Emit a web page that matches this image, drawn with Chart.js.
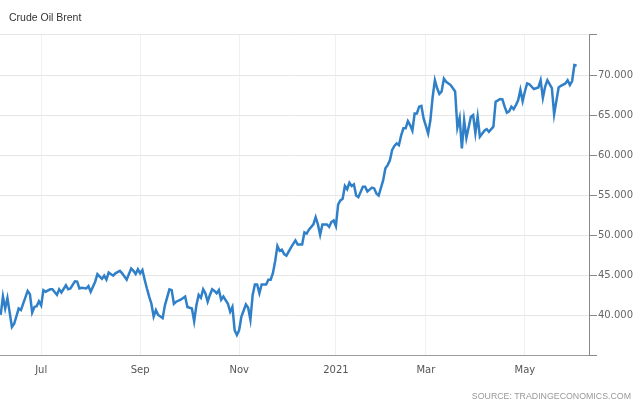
<!DOCTYPE html>
<html>
<head>
<meta charset="utf-8">
<title>Crude Oil Brent</title>
<script src="https://cdn.jsdelivr.net/npm/chart.js@4.4.1/dist/chart.umd.min.js"></script>
<style>
  body { margin: 0; background: #fff; }
  #wrap { position: relative; width: 640px; height: 402px; overflow: hidden; }
  #title { position: absolute; left: 9px; top: 11px; font: 10.5px "Liberation Sans", Arial, sans-serif; color: #333; }
  #source { position: absolute; right: 9px; top: 391px; font: 8.8px "Liberation Sans", Arial, sans-serif; color: #999; }
</style>
</head>
<body>
<div id="wrap">
  <canvas id="myChart" width="640" height="402"></canvas>
  <div id="title">Crude Oil Brent</div>
  <div id="source">SOURCE: TRADINGECONOMICS.COM</div>
</div>
<script>
// trading session index (0 = 5 Jun 2020) and Brent close in USD
const session = [0, 1, 2, 3, 5, 6, 8, 9, 12, 13, 14, 15, 16, 17, 18, 19, 20, 22, 23, 25,
  26, 27, 29, 30, 31, 33, 34, 35, 36, 38, 39, 40, 42, 43, 45, 46, 47, 48, 50, 51,
  53, 54, 56, 58, 59, 60, 61, 62, 63, 64, 65, 66, 67, 68, 69, 70, 71, 72, 73, 75,
  76, 77, 78, 80, 82, 83, 84, 85, 86, 87, 88, 89, 90, 91, 92, 93, 94, 95, 96, 97,
  98, 99, 101, 102, 103, 104, 105, 106, 107, 109, 110, 111, 112, 113, 114, 115, 116, 118, 119, 120,
  121, 122, 123, 124, 125, 126, 127, 129, 131, 132, 134, 135, 136, 137, 139, 140, 141, 142, 143, 145,
  146, 147, 148, 149, 150, 151, 152, 153, 154, 155, 156, 157, 158, 159, 161, 162, 163, 165, 166, 167,
  168, 170, 171, 172, 173, 174, 175, 176, 177, 178, 179, 180, 181, 182, 183, 184, 185, 186, 187, 188,
  189, 190, 191, 192, 193, 194, 195, 196, 197, 198, 200, 201, 202, 203, 204, 205, 206, 207, 209, 210,
  211, 212, 213, 215, 216, 217, 219, 220, 222, 223, 224, 225, 226, 227, 228, 229, 230, 231, 232, 233,
  234, 235, 237, 239, 240, 241, 242, 243, 245, 246, 248, 249, 251, 252, 253, 254, 255, 256];
const brent = [40.1, 42.4, 40.9, 42.2, 38.6, 39.0, 40.9, 40.7, 43.1, 42.7, 40.4, 41.1, 41.2, 41.8, 41.3, 43.2, 43.0, 43.3, 43.3, 42.6,
  43.3, 42.9, 43.8, 43.3, 43.4, 44.3, 44.25, 43.4, 43.5, 43.4, 43.7, 43.0, 44.25, 45.2, 44.6, 45.0, 44.5, 45.4, 45.0, 45.3,
  45.6, 45.3, 44.5, 45.9, 45.6, 45.2, 45.8, 45.3, 45.7, 44.5, 43.4, 42.4, 41.5, 39.9, 40.7, 40.1, 39.9, 39.7, 41.3, 43.3,
  43.2, 41.5, 41.75, 42.0, 42.4, 41.1, 41.0, 40.9, 39.3, 41.3, 42.6, 42.25, 43.3, 42.8, 41.75, 42.6, 43.3, 43.1, 42.8, 43.2,
  42.0, 42.4, 41.5, 40.5, 41.1, 38.2, 37.6, 38.2, 39.9, 41.4, 41.0, 39.5, 42.6, 43.9, 43.9, 42.8, 43.9, 43.9, 44.5, 44.5,
  45.3, 46.8, 48.7, 48.1, 48.25, 47.7, 47.5, 48.5, 49.4, 48.9, 48.9, 50.4, 50.25, 50.75, 51.4, 52.3, 51.4, 50.1, 51.4, 51.4,
  51.1, 51.7, 51.9, 51.2, 53.9, 54.4, 54.6, 56.2, 55.8, 56.6, 56.2, 56.4, 55.0, 54.8, 56.1, 56.1, 55.5, 56.0, 55.9, 55.25,
  55.0, 56.9, 58.4, 58.8, 59.4, 60.7, 61.2, 61.5, 61.3, 62.5, 63.4, 63.4, 64.3, 63.8, 63.1, 65.25, 65.25, 66.1, 66.2, 64.6,
  63.7, 62.75, 64.4, 67.3, 69.4, 68.4, 67.7, 68.0, 69.6, 69.2, 68.8, 68.4, 68.0, 63.5, 64.7, 60.9, 64.4, 62.2, 64.85, 65.05,
  62.8, 64.85, 62.35, 63.1, 63.3, 62.95, 63.6, 66.7, 67.05, 67.0, 66.1, 65.35, 65.5, 66.1, 65.8, 66.3, 66.9, 68.2, 66.8, 68.0,
  69.0, 68.9, 68.3, 68.5, 69.4, 67.2, 68.6, 69.4, 68.4, 65.15, 68.5, 68.7, 69.0, 69.4, 68.8, 69.3, 71.3, 71.25];

// x axis: first session of each labelled month
const monthTickAt = [18, 62, 106, 149, 189, 233];
const monthLabels = ["Jul", "Sep", "Nov", "2021", "Mar", "May"];
// y axis
const priceTicks = [40, 45, 50, 55, 60, 65, 70];
const yMin = 35.1, yMax = 75.17;

const points = session.map((s, i) => ({ x: s, y: brent[i] }));

const config = {
  type: "line",
  data: {
    datasets: [
      {
        label: "Crude Oil Brent",
        data: points,
        borderColor: "#2f80c8",
        borderWidth: 2.5,
        pointRadius: 0,
        tension: 0,
        fill: false,
      },
    ],
  },
  options: {
    responsive: false,
    animation: false,
    layout: { padding: { top: 34, left: 0, right: 0, bottom: 0 } },
    scales: {
      x: {
        type: "linear",
        min: -0.3,
        max: 261.5,
        afterBuildTicks: (scale) => {
          scale.ticks = monthTickAt.map((v) => ({ value: v }));
        },
        afterFit: (scale) => {
          scale.height = 47;
        },
        grid: {
          color: "#edf2f6", // vertical grid lines
          drawTicks: false,
        },
        border: { color: "#9a9a9a" },
        ticks: {
          padding: 9,
          color: "#555",
          font: { family: "DejaVu Sans", size: 10 },
          maxRotation: 0,
          autoSkip: false,
          callback: (value, index) => monthLabels[index],
        },
      },
      y: {
        position: "right",
        min: yMin,
        max: yMax,
        afterBuildTicks: (scale) => {
          scale.ticks = [yMin].concat(priceTicks, [yMax]).map((v) => ({ value: v }));
        },
        afterFit: (scale) => {
          scale.width = 51;
        },
        grid: {
          color: "#e6e6e6", // horizontal grid lines
          tickLength: 8,
          tickColor: "#888",
        },
        border: { color: "#888" },
        ticks: {
          padding: 1,
          color: "#666",
          font: { family: "DejaVu Sans", size: 10 },
          callback: (value) => (priceTicks.includes(value) ? value.toFixed(3) : ""),
        },
      },
    },
    plugins: {
      legend: { display: false },
      tooltip: { enabled: false },
      title: { display: false },
    },
  },
};

const ctx = document.getElementById("myChart").getContext("2d");
const myChart = new Chart(ctx, config);
</script>
</body>
</html>
